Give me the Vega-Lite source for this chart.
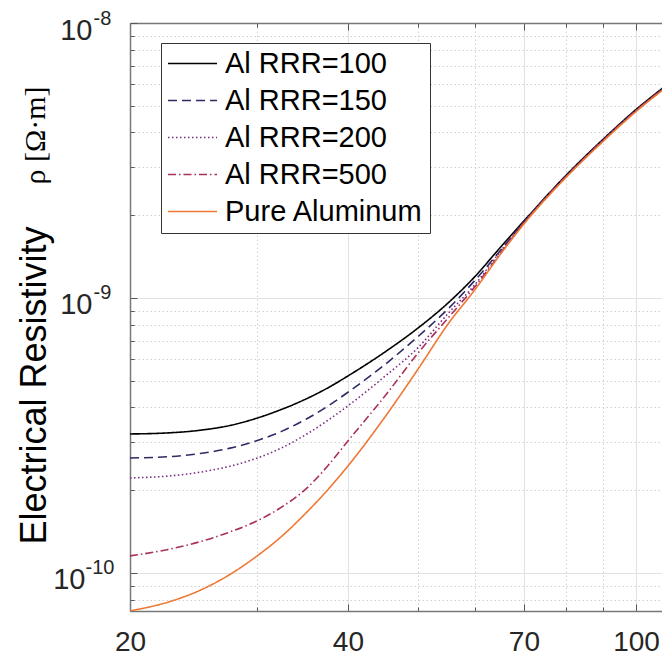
{
  "$schema": "https://vega.github.io/schema/vega-lite/v6.json",
  "autosize": "none",
  "width": 532,
  "height": 588,
  "padding": {"left": 130, "top": 23, "right": 0, "bottom": 44},
  "background": "white",
  "config": {"view": {"stroke": null}, "font": "Liberation Sans"},
  "datasets": {
    "curves": [
      {"series": "Al RRR=100", "T": 20, "rho": 3.202e-10},
      {"series": "Al RRR=100", "T": 22.5, "rho": 3.229e-10},
      {"series": "Al RRR=100", "T": 25, "rho": 3.303e-10},
      {"series": "Al RRR=100", "T": 27.5, "rho": 3.439e-10},
      {"series": "Al RRR=100", "T": 30, "rho": 3.661e-10},
      {"series": "Al RRR=100", "T": 32.5, "rho": 3.947e-10},
      {"series": "Al RRR=100", "T": 35, "rho": 4.291e-10},
      {"series": "Al RRR=100", "T": 37.5, "rho": 4.706e-10},
      {"series": "Al RRR=100", "T": 40, "rho": 5.204e-10},
      {"series": "Al RRR=100", "T": 45, "rho": 6.362e-10},
      {"series": "Al RRR=100", "T": 50, "rho": 7.78e-10},
      {"series": "Al RRR=100", "T": 55, "rho": 9.59e-10},
      {"series": "Al RRR=100", "T": 60, "rho": 1.202e-9},
      {"series": "Al RRR=100", "T": 65, "rho": 1.532e-9},
      {"series": "Al RRR=100", "T": 70, "rho": 1.905e-9},
      {"series": "Al RRR=100", "T": 80, "rho": 2.789e-9},
      {"series": "Al RRR=100", "T": 90, "rho": 3.771e-9},
      {"series": "Al RRR=100", "T": 100, "rho": 4.846e-9},
      {"series": "Al RRR=100", "T": 110, "rho": 5.926e-9},
      {"series": "Al RRR=150", "T": 20, "rho": 2.619e-10},
      {"series": "Al RRR=150", "T": 22.5, "rho": 2.644e-10},
      {"series": "Al RRR=150", "T": 25, "rho": 2.718e-10},
      {"series": "Al RRR=150", "T": 27.5, "rho": 2.843e-10},
      {"series": "Al RRR=150", "T": 30, "rho": 3.033e-10},
      {"series": "Al RRR=150", "T": 32.5, "rho": 3.286e-10},
      {"series": "Al RRR=150", "T": 35, "rho": 3.622e-10},
      {"series": "Al RRR=150", "T": 37.5, "rho": 4.039e-10},
      {"series": "Al RRR=150", "T": 40, "rho": 4.54e-10},
      {"series": "Al RRR=150", "T": 45, "rho": 5.73e-10},
      {"series": "Al RRR=150", "T": 50, "rho": 7.244e-10},
      {"series": "Al RRR=150", "T": 55, "rho": 9.128e-10},
      {"series": "Al RRR=150", "T": 60, "rho": 1.165e-9},
      {"series": "Al RRR=150", "T": 65, "rho": 1.491e-9},
      {"series": "Al RRR=150", "T": 70, "rho": 1.886e-9},
      {"series": "Al RRR=150", "T": 80, "rho": 2.765e-9},
      {"series": "Al RRR=150", "T": 90, "rho": 3.739e-9},
      {"series": "Al RRR=150", "T": 100, "rho": 4.806e-9},
      {"series": "Al RRR=150", "T": 110, "rho": 5.876e-9},
      {"series": "Al RRR=200", "T": 20, "rho": 2.215e-10},
      {"series": "Al RRR=200", "T": 22.5, "rho": 2.249e-10},
      {"series": "Al RRR=200", "T": 25, "rho": 2.325e-10},
      {"series": "Al RRR=200", "T": 27.5, "rho": 2.445e-10},
      {"series": "Al RRR=200", "T": 30, "rho": 2.619e-10},
      {"series": "Al RRR=200", "T": 32.5, "rho": 2.862e-10},
      {"series": "Al RRR=200", "T": 35, "rho": 3.186e-10},
      {"series": "Al RRR=200", "T": 37.5, "rho": 3.585e-10},
      {"series": "Al RRR=200", "T": 40, "rho": 4.052e-10},
      {"series": "Al RRR=200", "T": 45, "rho": 5.191e-10},
      {"series": "Al RRR=200", "T": 50, "rho": 6.601e-10},
      {"series": "Al RRR=200", "T": 55, "rho": 8.782e-10},
      {"series": "Al RRR=200", "T": 60, "rho": 1.124e-9},
      {"series": "Al RRR=200", "T": 65, "rho": 1.482e-9},
      {"series": "Al RRR=200", "T": 70, "rho": 1.889e-9},
      {"series": "Al RRR=200", "T": 80, "rho": 2.765e-9},
      {"series": "Al RRR=200", "T": 90, "rho": 3.739e-9},
      {"series": "Al RRR=200", "T": 100, "rho": 4.806e-9},
      {"series": "Al RRR=200", "T": 110, "rho": 5.876e-9},
      {"series": "Al RRR=500", "T": 20, "rho": 1.153e-10},
      {"series": "Al RRR=500", "T": 22.5, "rho": 1.215e-10},
      {"series": "Al RRR=500", "T": 25, "rho": 1.299e-10},
      {"series": "Al RRR=500", "T": 27.5, "rho": 1.41e-10},
      {"series": "Al RRR=500", "T": 30, "rho": 1.55e-10},
      {"series": "Al RRR=500", "T": 32.5, "rho": 1.745e-10},
      {"series": "Al RRR=500", "T": 35, "rho": 2.021e-10},
      {"series": "Al RRR=500", "T": 37.5, "rho": 2.449e-10},
      {"series": "Al RRR=500", "T": 40, "rho": 3.02e-10},
      {"series": "Al RRR=500", "T": 45, "rho": 4.401e-10},
      {"series": "Al RRR=500", "T": 50, "rho": 6.31e-10},
      {"series": "Al RRR=500", "T": 55, "rho": 8.459e-10},
      {"series": "Al RRR=500", "T": 60, "rho": 1.105e-9},
      {"series": "Al RRR=500", "T": 65, "rho": 1.457e-9},
      {"series": "Al RRR=500", "T": 70, "rho": 1.874e-9},
      {"series": "Al RRR=500", "T": 80, "rho": 2.765e-9},
      {"series": "Al RRR=500", "T": 90, "rho": 3.739e-9},
      {"series": "Al RRR=500", "T": 100, "rho": 4.806e-9},
      {"series": "Al RRR=500", "T": 110, "rho": 5.876e-9},
      {"series": "Pure Aluminum", "T": 20, "rho": 7.276e-11},
      {"series": "Pure Aluminum", "T": 22.5, "rho": 7.811e-11},
      {"series": "Pure Aluminum", "T": 25, "rho": 8.651e-11},
      {"series": "Pure Aluminum", "T": 27.5, "rho": 9.883e-11},
      {"series": "Pure Aluminum", "T": 30, "rho": 1.156e-10},
      {"series": "Pure Aluminum", "T": 32.5, "rho": 1.369e-10},
      {"series": "Pure Aluminum", "T": 35, "rho": 1.652e-10},
      {"series": "Pure Aluminum", "T": 37.5, "rho": 2.003e-10},
      {"series": "Pure Aluminum", "T": 40, "rho": 2.449e-10},
      {"series": "Pure Aluminum", "T": 45, "rho": 3.692e-10},
      {"series": "Pure Aluminum", "T": 50, "rho": 5.517e-10},
      {"series": "Pure Aluminum", "T": 55, "rho": 8.043e-10},
      {"series": "Pure Aluminum", "T": 60, "rho": 1.078e-9},
      {"series": "Pure Aluminum", "T": 65, "rho": 1.445e-9},
      {"series": "Pure Aluminum", "T": 70, "rho": 1.858e-9},
      {"series": "Pure Aluminum", "T": 80, "rho": 2.742e-9},
      {"series": "Pure Aluminum", "T": 90, "rho": 3.707e-9},
      {"series": "Pure Aluminum", "T": 100, "rho": 4.766e-9},
      {"series": "Pure Aluminum", "T": 110, "rho": 5.828e-9}
    ]
  },
  "data": {"name": "curves"},
  "layer": [
    {
      "mark": {"type": "line", "clip": true, "strokeWidth": 1.6, "interpolate": "monotone"},
      "encoding": {
        "x": {
          "field": "T", "type": "quantitative",
          "scale": {"type": "log", "domain": [20, 108.6], "nice": false},
          "axis": {
            "orient": "bottom",
            "title": null,
            "values": [20, 30, 40, 50, 60, 70, 80, 90, 100],
            "labelExpr": "(datum.value == 20 || datum.value == 40 || datum.value == 70 || datum.value == 100) ? '' + datum.value : ''",
            "labelFont": "Liberation Sans",
            "labelFontSize": 28,
            "labelColor": "#262626",
            "labelPadding": 24,
            "labelFlush": false,
            "labelOverlap": false,
            "labelBaseline": "top",
            "ticks": true,
            "tickSize": {"condition": {"test": "datum.value == 20 || datum.value == 40 || datum.value == 70 || datum.value == 100", "value": -7}, "value": -4},
            "tickColor": "#555555",
            "tickWidth": 1,
            "domain": true,
            "domainColor": "#777777",
            "domainWidth": 1.5,
            "grid": true,
            "gridWidth": 1,
            "gridColor": {"condition": {"test": "datum.value == 20 || datum.value == 40 || datum.value == 70 || datum.value == 100", "value": "#e2e2e2"}, "value": "#d0d0d0"},
            "gridDash": {"condition": {"test": "datum.value == 20 || datum.value == 40 || datum.value == 70 || datum.value == 100", "value": []}, "value": [1.5, 2.5]}
          }
        },
        "y": {
          "field": "rho", "type": "quantitative",
          "scale": {"type": "log", "domain": [7.27e-11, 1e-8], "nice": false},
          "axis": {
            "orient": "left",
            "values": [8e-11, 9e-11, 1e-10, 2e-10, 3e-10, 4e-10, 5e-10, 6e-10, 7e-10, 8e-10, 9e-10, 1e-9, 2e-9, 3e-9, 4e-9, 5e-9, 6e-9, 7e-9, 8e-9, 9e-9, 1e-8],
            "labelExpr": "(datum.value == 1e-10 || datum.value == 1e-9 || datum.value == 1e-8) ? '10' : ''",
            "labelFont": "Liberation Sans",
            "labelFontSize": 29,
            "labelColor": "#262626",
            "labelAlign": "right",
            "labelBaseline": "middle",
            "labelPadding": {"condition": {"test": "datum.value == 1e-10", "value": 52}, "value": 45},
            "labelOffset": 7,
            "labelOverlap": false,
            "labelFlush": false,
            "ticks": true,
            "tickSize": {"condition": {"test": "datum.value == 1e-10 || datum.value == 1e-9 || datum.value == 1e-8", "value": -7}, "value": -4},
            "tickColor": "#555555",
            "tickWidth": 1,
            "domain": true,
            "domainColor": "#777777",
            "domainWidth": 1.5,
            "grid": true,
            "gridWidth": 1,
            "gridColor": {"condition": {"test": "datum.value == 1e-10 || datum.value == 1e-9 || datum.value == 1e-8", "value": "#e2e2e2"}, "value": "#d0d0d0"},
            "gridDash": {"condition": {"test": "datum.value == 1e-10 || datum.value == 1e-9 || datum.value == 1e-8", "value": []}, "value": [1.5, 2.5]},
            "title": "Electrical Resistivity",
            "titleFont": "Liberation Sans",
            "titleFontSize": 36,
            "titleFontWeight": "normal",
            "titleColor": "#000000",
            "titleAngle": 270,
            "titleAlign": "center",
            "titleBaseline": "alphabetic",
            "titleX": -85,
            "titleY": 362
          }
        },
        "color": {
          "field": "series", "type": "nominal",
          "scale": {
            "domain": ["Al RRR=100", "Al RRR=150", "Al RRR=200", "Al RRR=500", "Pure Aluminum"],
            "range": ["#000000", "#2e2a66", "#7a2a80", "#a8305c", "#ee7733"]
          },
          "legend": {
            "orient": "none", "legendX": 31, "legendY": 20, "title": null,
            "symbolType": "stroke", "symbolSize": 2401, "symbolStrokeWidth": 1.5,
            "clipHeight": 29,
            "labelFont": "Liberation Sans", "labelFontSize": 29, "labelColor": "#000000",
            "labelOffset": 7, "labelLimit": 0, "rowPadding": 7, "padding": 6,
            "strokeColor": "#333333", "fillColor": "#ffffff"
          }
        },
        "strokeDash": {
          "field": "series", "type": "nominal",
          "scale": {
            "domain": ["Al RRR=100", "Al RRR=150", "Al RRR=200", "Al RRR=500", "Pure Aluminum"],
            "range": [[1, 0], [9, 5], [1.5, 2.5], [8, 3, 1.5, 3], [1, 0]]
          },
          "legend": {
            "orient": "none", "legendX": 31, "legendY": 20, "title": null,
            "symbolType": "stroke", "symbolSize": 2401, "symbolStrokeWidth": 1.5,
            "clipHeight": 29,
            "labelFont": "Liberation Sans", "labelFontSize": 29, "labelColor": "#000000",
            "labelOffset": 7, "labelLimit": 0, "rowPadding": 7, "padding": 6,
            "strokeColor": "#333333", "fillColor": "#ffffff"
          }
        }
      }
    },
    {
      "mark": {"type": "line", "opacity": 0, "clip": true},
      "encoding": {
        "detail": {"field": "series", "type": "nominal"},
        "x": {
          "field": "T", "type": "quantitative",
          "axis": {
            "orient": "top",
            "title": null,
            "values": [20, 30, 40, 50, 60, 70, 80, 90, 100],
            "labels": false,
            "ticks": true,
            "tickSize": {"condition": {"test": "datum.value == 20 || datum.value == 40 || datum.value == 70 || datum.value == 100", "value": -7}, "value": -4},
            "tickColor": "#555555",
            "tickWidth": 1,
            "domain": true,
            "domainColor": "#777777",
            "domainWidth": 1.5,
            "grid": false
          }
        },
        "y": {
          "field": "rho", "type": "quantitative",
          "axis": {
            "orient": "left",
            "values": [1e-10, 1e-9, 1e-8],
            "labelExpr": "datum.value == 1e-10 ? '-10' : (datum.value == 1e-9 ? '-9' : '-8')",
            "labelFont": "Liberation Sans",
            "labelFontSize": 20,
            "labelColor": "#262626",
            "labelAlign": "left",
            "labelBaseline": "middle",
            "labelPadding": {"condition": {"test": "datum.value == 1e-10", "value": 45}, "value": 37},
            "labelOffset": -5,
            "labelOverlap": false,
            "labelFlush": false,
            "ticks": false,
            "domain": false,
            "grid": false,
            "title": "ρ [Ω·m]",
            "titleFont": "Liberation Serif",
            "titleFontSize": 30,
            "titleFontWeight": "normal",
            "titleColor": "#000000",
            "titleAngle": 270,
            "titleAlign": "center",
            "titleBaseline": "alphabetic",
            "titleX": -86,
            "titleY": 112
          }
        }
      }
    }
  ],
  "resolve": {"axis": {"x": "independent", "y": "independent"}}
}
